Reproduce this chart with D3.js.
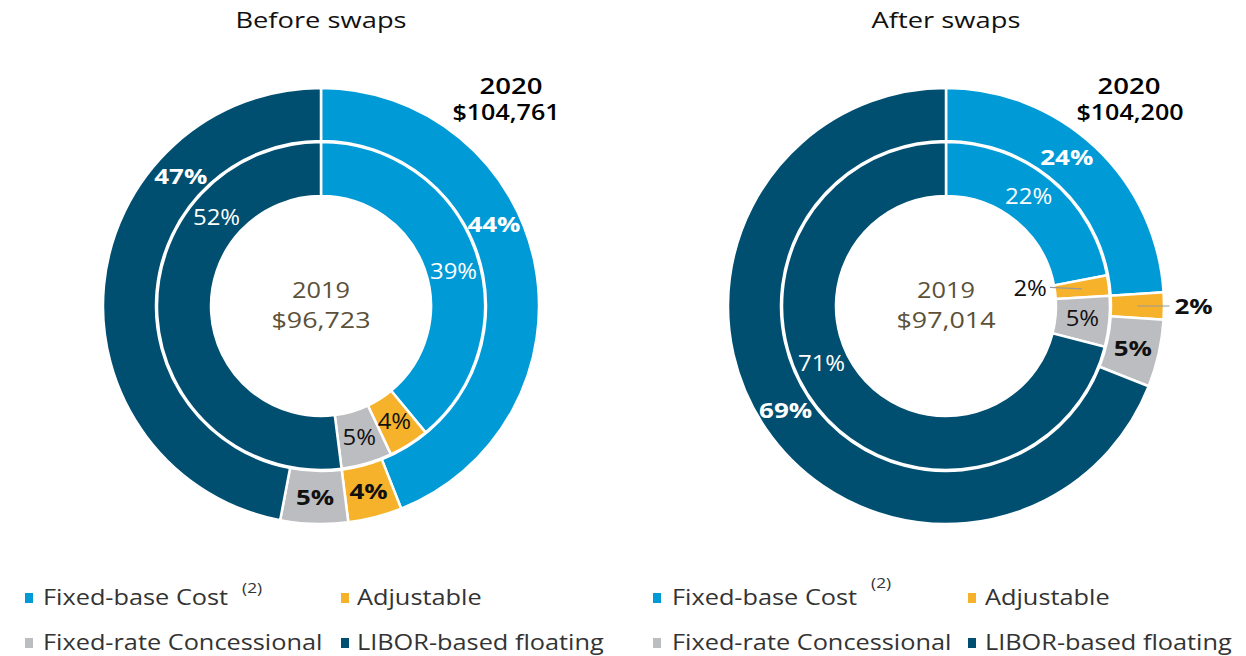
<!DOCTYPE html>
<html>
<head>
<meta charset="utf-8">
<script src="https://cdn.jsdelivr.net/npm/d3@7"></script>
<style>
  body { margin: 0; background: #fff; }
  svg text { font-family: "Open Sans", "DejaVu Sans", sans-serif; }
</style>
</head>
<body>
<svg id="chart" width="1246" height="656"></svg>
<script>
// debt mix before / after swaps, 2020 outer ring, 2019 inner ring
var categories = ["Fixed-base Cost", "Adjustable", "Fixed-rate Concessional", "LIBOR-based floating"];
var colors = ["#009bd7", "#f6b22b", "#bcbdc0", "#004f71"];

var beforeOuter2020 = [44, 4, 5, 47];
var beforeInner2019 = [39, 4, 5, 52];
var afterOuter2020 = [24, 2, 5, 69];
var afterInner2019 = [22, 2, 5, 71];

var titles = ["Before swaps", "After swaps"];
var totals2020 = ["$104,761", "$104,200"];
var totals2019 = ["$96,723", "$97,014"];

// layout: where each label sits (angle in degrees, null = centroid, left/right = leader line)
var panels = [
  { cx: 321, outer: beforeOuter2020, inner: beforeInner2019,
    outerLab: [64.6, null, null, 312.9], innerLab: [75.4, null, null, 310.3],
    yearDx: [190, 185] },
  { cx: 946, outer: afterOuter2020, inner: afterInner2019,
    outerLab: [39.1, "right", null, 236.9], innerLab: [37.1, "left", null, 245.3],
    yearDx: [183, 184] }
];

var cy = 306;
var R = { o0: 165, o1: 218, i0: 110, i1: 164 };
var svg = d3.select("#chart");
var pie = d3.pie().sort(null).value(function(d){ return d; });

// the original face is a wide geometric sans, so stretch the glyphs a bit
function widen(sel, f) {
  sel.each(function(){
    var w = this.getComputedTextLength();
    d3.select(this).attr("textLength", w * f).attr("lengthAdjust", "spacingAndGlyphs");
  });
  return sel;
}

function darkText(i){ return i == 1 || i == 2; }

panels.forEach(function(p, k){
  var g = svg.append("g").attr("transform", "translate(" + p.cx + "," + cy + ")");

  // title
  widen(svg.append("text")
    .attr("x", p.cx).attr("y", 28)
    .attr("text-anchor", "middle")
    .style("font-size", "21px").style("font-weight", 500).attr("fill", "#111")
    .text(titles[k]), 1.3);

  var rings = [
    { vals: p.outer, r0: R.o0, r1: R.o1, lab: p.outerLab, bold: true },
    { vals: p.inner, r0: R.i0, r1: R.i1, lab: p.innerLab, bold: false }
  ];

  rings.forEach(function(ring){
    var arc = d3.arc().innerRadius(ring.r0).outerRadius(ring.r1);
    var arcs = pie(ring.vals);
    g.selectAll(null).data(arcs).enter().append("path")
      .attr("d", arc)
      .attr("fill", function(d, i){ return colors[i]; })
      .attr("stroke", "#fff").attr("stroke-width", 2.5);

    var rm = (ring.r0 + ring.r1) / 2;
    arcs.forEach(function(d, i){
      var spec = ring.lab[i];
      var a = (typeof spec === "number") ? spec * Math.PI / 180 : (d.startAngle + d.endAngle) / 2;
      var x = rm * Math.sin(a), y = -rm * Math.cos(a);
      var anchor = "middle";
      if (spec === "right" || spec === "left") {
        var dir = spec === "right" ? 1 : -1;
        g.append("line")
          .attr("x1", x).attr("y1", y).attr("x2", x + dir * 32).attr("y2", y - (dir < 0 ? 1.5 : 0))
          .attr("stroke", "#9a9a9a").attr("stroke-width", 1.2);
        x = x + dir * (dir > 0 ? 37 : 35);
        anchor = dir > 0 ? "start" : "end";
      }
      widen(g.append("text")
        .attr("x", x).attr("y", y).attr("dy", "0.36em")
        .attr("text-anchor", anchor)
        .style("font-size", ring.bold ? "22px" : "21px")
        .style("font-weight", ring.bold ? 700 : 400)
        .attr("fill", (darkText(i) || spec === "right" || spec === "left") ? "#111" : "#fff")
        .text(ring.vals[i] + "%"), ring.bold ? 1.18 : 1.14);
    });
  });

  // center 2019 total
  widen(g.append("text").attr("x", 0).attr("y", -8).attr("text-anchor", "middle")
    .attr("fill", "#5b5038").style("font-size", "22px").text("2019"), 1.15);
  widen(g.append("text").attr("x", 0).attr("y", 22).attr("text-anchor", "middle")
    .attr("fill", "#5b5038").style("font-size", "22px").text(totals2019[k]), 1.22);

  // 2020 total, top right
  widen(svg.append("text").attr("x", p.cx + p.yearDx[0]).attr("y", 94).attr("text-anchor", "middle")
    .attr("fill", "#000").style("font-size", "22px").style("font-weight", 600).text("2020"), 1.25);
  widen(svg.append("text").attr("x", p.cx + p.yearDx[1]).attr("y", 120).attr("text-anchor", "middle")
    .attr("fill", "#000").style("font-size", "22px").style("font-weight", 600).text(totals2020[k]), 1.14);
});

// legends
var legendSq = [[25, 341], [653, 968]];
var legendTx = [[43, 357], [672, 985]];
var legendRows = [605, 650];
legendSq.forEach(function(xs, k){
  categories.forEach(function(name, i){
    var col = i % 2, y = legendRows[Math.floor(i / 2)];
    svg.append("rect")
      .attr("x", xs[col]).attr("y", y - 12).attr("width", 8).attr("height", 10)
      .attr("fill", colors[i]);
    var t = widen(svg.append("text")
      .attr("x", legendTx[k][col]).attr("y", y)
      .style("font-size", "22px").attr("fill", "#333")
      .text(name), 1.15);
    if (i == 0) {
      var w = +t.attr("textLength");
      widen(svg.append("text")
        .attr("x", legendTx[k][col] + w + 14).attr("y", y - (k == 0 ? 12 : 17))
        .style("font-size", "15px").attr("fill", "#333").text("(2)"), 1.15);
    }
  });
});
</script>
</body>
</html>
